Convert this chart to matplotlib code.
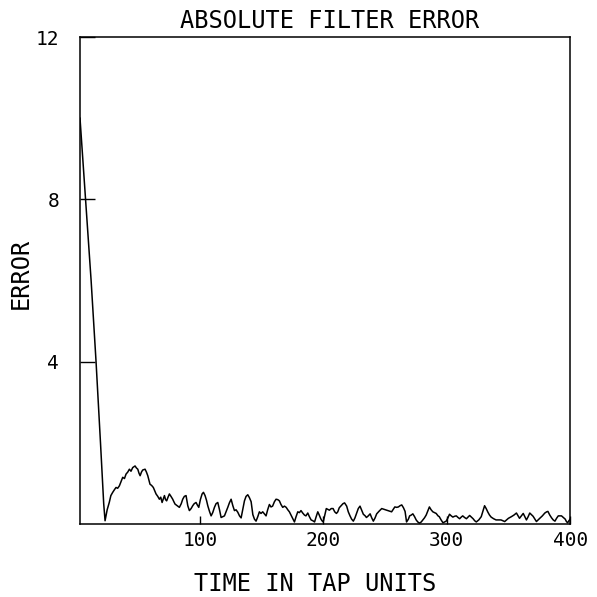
import matplotlib
matplotlib.use("Agg")
import matplotlib.pyplot as plt

# values
tap_time = [
    3, 5, 7.5, 10, 12, 14, 16, 18, 19.6, 21, 22.2, 23.3, 25, 26.7, 28, 29.5,
    31, 32.2, 33.5, 34.9, 36.3, 37.6, 39, 40.3, 41.7, 43, 44.3, 45.7, 47.6,
    48.7, 49.8, 50.8, 51.7, 52.8, 53.8, 55.7, 56.8, 57.9, 59.7, 61, 62.4,
    63.5, 64.6, 66, 67.3, 68.4, 69.5, 70.5, 71.4, 72.3, 73.2, 74.3, 75.4,
    76.7, 78.1, 79, 80, 81.8, 83.5, 85, 86.2, 87.5, 88.9, 90.3, 91.6, 93,
    94.3, 95.5, 97, 98, 99.2, 100.5, 101.9, 103, 104.3, 105.5, 106.5, 108,
    109.2, 110.5, 111.9, 113.2, 114.6, 116, 117.3, 118.7, 120, 121.3, 122.7,
    124, 125.4, 126.8, 128.1, 129.4, 130.8, 132.2, 133.5, 135, 136.2, 137.5,
    138.9, 140.2, 141.6, 143, 144.3, 145.6, 147, 148.3, 149.6, 151, 152.4,
    153.7, 155, 156.4, 157.7, 159, 160.5, 161.8, 163.2, 164.5, 165.8, 167.2,
    168.6, 170, 171.3, 172.6, 174.6, 176.7, 178, 179.4, 180.7, 182, 183.4,
    184.8, 186, 187.5, 188.8, 190.2, 191.6, 193, 194.3, 195.6, 196.8, 198,
    199, 200, 201.3, 202.5, 203.8, 205, 206.5, 208, 209.3, 210.7, 211.8, 213,
    214.5, 216, 217.3, 219, 220.3, 221.7, 223, 224.4, 225.7, 227, 228.4,
    229.8, 231, 232.5, 234, 235, 236.5, 238, 239.3, 240.6, 242, 243.3, 245.4,
    247.4, 249.4, 251.4, 253.4, 255.4, 256.7, 258, 259.5, 260.9, 262.2, 263.6,
    265, 266.3, 267.5, 269, 270, 271.3, 272.6, 274, 275.3, 276.6, 278, 279.4,
    280.7, 282, 283.4, 284.7, 286, 287.4, 288.8, 290.2, 291.5, 293, 294,
    295.5, 297, 298.3, 299.6, 301, 302.3, 303.7, 305, 306.4, 307.8, 309.2,
    310.5, 311.8, 313, 314.5, 316, 317.3, 318.6, 320, 321.4, 322.7, 324, 326,
    328, 329.4, 330.7, 332, 333.4, 334.7, 336, 338, 340, 342, 344, 345.5, 347,
    348.5, 350, 351.2, 352.4, 354.5, 356.5, 357.8, 359, 360.5, 362, 363.3,
    364.6, 366, 367.3, 368.7, 370, 371.4, 372.7, 374, 375.4, 377.5, 379.5,
    381, 382, 383.5, 385, 386.3, 387.7, 389, 390.4, 391.7, 393, 394.5, 396,
    397, 398, 399, 400,
]
abs_error = [
    10.0, 9.1, 8.0, 6.9, 6.0, 5.0, 4.0, 2.9, 2.0, 1.2, 0.5, 0.08, 0.35, 0.53,
    0.7, 0.78, 0.85, 0.9, 0.88, 0.94, 1.05, 1.15, 1.12, 1.23, 1.28, 1.35, 1.3,
    1.39, 1.43, 1.38, 1.35, 1.25, 1.19, 1.28, 1.33, 1.35, 1.28, 1.19, 0.98,
    0.95, 0.9, 0.82, 0.74, 0.68, 0.61, 0.66, 0.53, 0.62, 0.7, 0.6, 0.57, 0.66,
    0.74, 0.68, 0.61, 0.55, 0.49, 0.45, 0.41, 0.5, 0.61, 0.68, 0.7, 0.45,
    0.33, 0.38, 0.45, 0.5, 0.53, 0.47, 0.41, 0.6, 0.74, 0.78, 0.7, 0.58, 0.45,
    0.3, 0.2, 0.28, 0.41, 0.5, 0.53, 0.35, 0.16, 0.18, 0.2, 0.3, 0.41, 0.52,
    0.61, 0.45, 0.33, 0.35, 0.29, 0.2, 0.15, 0.38, 0.57, 0.68, 0.72, 0.65,
    0.55, 0.23, 0.12, 0.07, 0.18, 0.3, 0.26, 0.3, 0.25, 0.2, 0.35, 0.48, 0.42,
    0.44, 0.55, 0.61, 0.6, 0.57, 0.48, 0.41, 0.44, 0.41, 0.35, 0.3, 0.18,
    0.05, 0.18, 0.3, 0.28, 0.33, 0.27, 0.22, 0.2, 0.27, 0.18, 0.1, 0.08, 0.05,
    0.18, 0.3, 0.22, 0.13, 0.08, 0.05, 0.22, 0.38, 0.36, 0.34, 0.38, 0.38,
    0.3, 0.26, 0.3, 0.4, 0.45, 0.5, 0.52, 0.44, 0.3, 0.2, 0.12, 0.07, 0.15,
    0.26, 0.38, 0.44, 0.35, 0.24, 0.2, 0.16, 0.2, 0.25, 0.15, 0.07, 0.15,
    0.25, 0.32, 0.38, 0.36, 0.34, 0.32, 0.3, 0.36, 0.42, 0.41, 0.42, 0.45,
    0.47, 0.4, 0.31, 0.05, 0.12, 0.2, 0.22, 0.25, 0.18, 0.1, 0.05, 0.02, 0.05,
    0.1, 0.15, 0.22, 0.32, 0.42, 0.35, 0.3, 0.28, 0.26, 0.2, 0.18, 0.1, 0.03,
    0.05, 0.07, 0.15, 0.24, 0.2, 0.17, 0.19, 0.2, 0.16, 0.13, 0.17, 0.2, 0.16,
    0.13, 0.17, 0.21, 0.17, 0.13, 0.08, 0.05, 0.1, 0.18, 0.32, 0.45, 0.38,
    0.29, 0.22, 0.17, 0.13, 0.1, 0.1, 0.1, 0.08, 0.06, 0.1, 0.14, 0.16, 0.18,
    0.22, 0.27, 0.2, 0.14, 0.2, 0.26, 0.18, 0.1, 0.18, 0.27, 0.23, 0.19, 0.12,
    0.06, 0.1, 0.14, 0.2, 0.27, 0.3, 0.31, 0.22, 0.15, 0.1, 0.07, 0.14, 0.2,
    0.2, 0.2, 0.16, 0.12, 0.06, 0.03, 0.08, 0.12,
]

x_ticks = [100, 200, 300, 400]
y_ticks = [4, 8, 12]

plt.rcParams['font.family'] = ['DejaVu Sans Mono', 'DejaVu Sans']

fig = plt.figure(figsize=(5.97, 5.97), dpi=100)
ax = fig.add_axes([0.134, 0.1223, 0.821, 0.8157])

ax.plot(tap_time, abs_error, color='black', lw=1.1)

ax.set_xlim(3, 400)
ax.set_ylim(0, 12)
ax.set_xticks(x_ticks)
ax.set_yticks(y_ticks)
ax.set_xticklabels([str(v) for v in x_ticks])
ax.set_yticklabels([str(v) for v in y_ticks])
ax.tick_params(axis='x', direction='in', length=6, width=1, pad=5, labelsize=14)
ax.tick_params(axis='y', direction='in', length=11, width=1, pad=15, labelsize=14)

for s in ax.spines.values():
    s.set_linewidth(1.1)

ax.set_title("ABSOLUTE FILTER ERROR", fontsize=17, pad=6.5)
ax.title.set_x(0.51)
ax.set_xlabel("TIME IN TAP UNITS", fontsize=17)
ax.xaxis.set_label_coords(0.48, -0.098)
ax.set_ylabel("ERROR", fontsize=17)
ax.yaxis.set_label_coords(-0.096, 0.515)

fig.savefig("out.png", dpi=100)
